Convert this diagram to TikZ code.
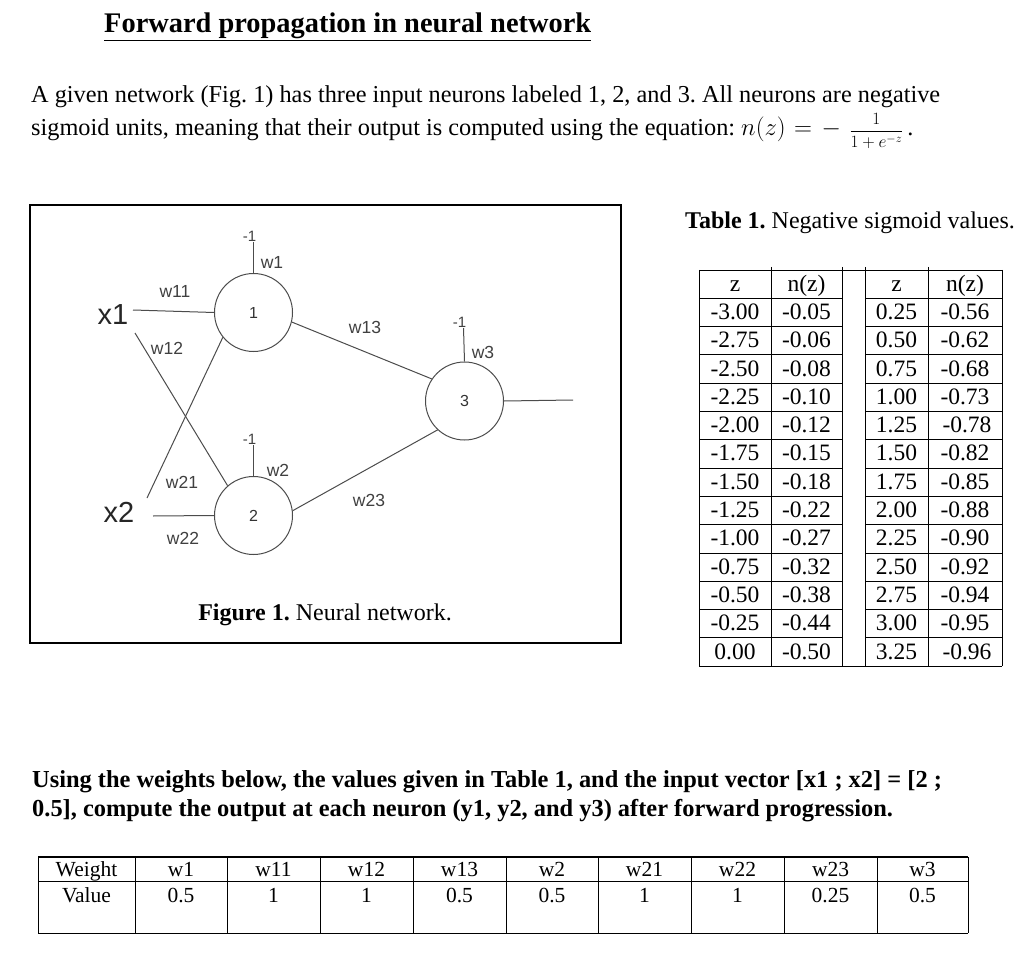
\documentclass[tikz,border=0pt]{standalone}
\usepackage{fontspec}
\setmainfont{Liberation Serif}
\newfontfamily\arialf{Liberation Sans}
\frenchspacing
\begin{document}
\begin{tikzpicture}[x=1pt,y=-1pt,
  neuron/.style={circle,draw=black!70,line width=1pt,minimum size=78pt,inner sep=0pt,font=\arialf\fontsize{16}{16}\selectfont,text=black!80},
  wire/.style={draw=black!70,line width=1pt},
  wlab/.style={font=\arialf\fontsize{17.5}{17.5}\selectfont,text=black!75,inner sep=0pt},
  blab/.style={font=\arialf\fontsize{15}{15}\selectfont,text=black!75,inner sep=0pt,anchor=south east},
  xlab/.style={font=\arialf\fontsize{29}{29}\selectfont,text=black!85,inner sep=0pt},
  txt/.style={inner sep=0pt,anchor=base west,font=\fontsize{24.3}{28}\selectfont},
  cell/.style={inner sep=0pt,anchor=base,font=\fontsize{23.5}{23.5}\selectfont},
  wcell/.style={inner sep=0pt,anchor=base,font=\fontsize{21.5}{21.5}\selectfont},
  grid/.style={draw=black,line width=0.9pt}]
\useasboundingbox (0,0) rectangle (1024,957);
\fill[white] (0,0) rectangle (1024,957);

% title and introduction
\node[txt,font=\bfseries\fontsize{28.4}{32}\selectfont] (title) at (104,33) {\underline{Forward propagation in neural network}};
\node[txt] (p1) at (31,103) {A given network (Fig. 1) has three input neurons labeled 1, 2, and 3. All neurons are negative};
\node[txt] (p2) at (31,136) {sigmoid units, meaning that their output is computed using the equation: $n(z)\mkern1mu=\mkern2mu{-}\mkern6mu${\fontsize{17}{17}\selectfont$\displaystyle\frac{1}{1+e^{-z}}$}\,.};

% figure box
\draw[line width=1.3pt] (30,205) rectangle (621,643);

% neurons
\node[neuron] (n1) at (253.5,312.5) {1};
\node[neuron] (n2) at (253.5,515.5) {2};
\node[neuron] (n3) at (464.5,401) {3};

% inputs
\node[xlab] (x1) at (113,315) {x1};
\node[xlab] (x2) at (119,512) {x2};

% biases
\coordinate (b1) at (253.5,242);
\coordinate (b2) at (253.5,445);
\coordinate (b3) at (463.5,328);
\draw[wire] (b1) -- (n1.north);
\draw[wire] (b2) -- (n2.north);
\draw[wire] (b3) -- (n3.north);
\node[blab] (m1) at ([xshift=3pt]b1) {-1};
\node[blab] (m2) at ([xshift=3pt]b2) {-1};
\node[blab] (m3) at ([xshift=3pt]b3) {-1};

% connectors
\coordinate (x1s) at (133,310);
\coordinate (x1d) at (135,333);
\coordinate (x2u) at (147,498);
\coordinate (x2s) at (153,516);
\coordinate (out) at (573,400);
\draw[wire] (x1s) -- (n1.west);
\draw[wire] (x1d) -- (n2.131);
\draw[wire] (x2u) -- (n1.-141);
\draw[wire] (x2s) -- (n2.west);
\draw[wire] (n1.-14) -- (n3.146);
\draw[wire] (n2.7) -- (n3.-133);
\draw[wire] (n3.east) -- (out);

% weight labels
\node[wlab] (lw1) at (272,262) {w1};
\node[wlab] (lw2) at (278,470) {w2};
\node[wlab] (lw3) at (483,352) {w3};
\node[wlab] (lw11) at (175,291) {w11};
\node[wlab] (lw12) at (167,348) {w12};
\node[wlab] (lw13) at (365,327) {w13};
\node[wlab] (lw21) at (182,482) {w21};
\node[wlab] (lw22) at (183,538) {w22};
\node[wlab] (lw23) at (369,500) {w23};

\node[inner sep=0pt,font=\fontsize{24}{28}\selectfont] (figcap) at (325,615) {\textbf{Figure 1.} Neural network.};

% Table 1
\node[txt,font=\fontsize{24}{28}\selectfont] (t1cap) at (685,229) {\textbf{Table 1.} Negative sigmoid values.};
\def\ttop{270}
\def\tp{28.3}
\node[cell] (hz1) at (735,{\ttop+0.5*\tp+7}) {z};
\node[cell] (hn1) at (806.5,{\ttop+0.5*\tp+7}) {n(z)};
\node[cell] (hz2) at (896.5,{\ttop+0.5*\tp+7}) {z};
\node[cell] (hn2) at (965,{\ttop+0.5*\tp+7}) {n(z)};
\foreach \a/\b/\c/\d/\s [count=\i] in {-3.00/-0.05/0.25/-0.56/0,-2.75/-0.06/0.50/-0.62/0,-2.50/-0.08/0.75/-0.68/0,-2.25/-0.10/1.00/-0.73/0,-2.00/-0.12/1.25/-0.78/2,-1.75/-0.15/1.50/-0.82/0,-1.50/-0.18/1.75/-0.85/0,-1.25/-0.22/2.00/-0.88/0,-1.00/-0.27/2.25/-0.90/0,-0.75/-0.32/2.50/-0.92/0,-0.50/-0.38/2.75/-0.94/0,-0.25/-0.44/3.00/-0.95/0,0.00/-0.50/3.25/-0.96/2}{
  \node[cell] (za\i) at (735,{\ttop+(\i+0.5)*\tp+7}) {\a};
  \node[cell] (na\i) at (806.5,{\ttop+(\i+0.5)*\tp+7}) {\b};
  \node[cell] (zb\i) at (896.5,{\ttop+(\i+0.5)*\tp+7}) {\c};
  \node[cell] (nb\i) at ({965+\s},{\ttop+(\i+0.5)*\tp+7}) {\d};
  \draw[grid] (699,{\ttop+\i*\tp}) -- (842,{\ttop+\i*\tp});
  \draw[grid] (865,{\ttop+\i*\tp}) -- (1002,{\ttop+\i*\tp});
}
\draw[grid] (699,\ttop) -- (1002,\ttop);
\draw[grid] (699,{\ttop+14*\tp}) -- (1002,{\ttop+14*\tp});
\foreach \xx in {699,1002} \draw[grid] (\xx,\ttop) -- (\xx,{\ttop+14*\tp});
\foreach \xx in {771,842,865,928} \draw[grid] (\xx,{\ttop-3}) -- (\xx,{\ttop+14*\tp});

% question
\node[txt,font=\bfseries\fontsize{24.4}{28}\selectfont] (q1) at (32,787) {Using the weights below, the values given in Table 1, and the input vector [x1 ; x2] = [2 ;};
\node[txt,font=\bfseries\fontsize{24.4}{28}\selectfont] (q2) at (32,816) {0.5], compute the output at each neuron (y1, y2, and y3) after forward progression.};

% weight table
\foreach \h/\v/\xa/\xb [count=\i] in {Weight/Value/38/135,w1/0.5/135/227,w11/1/227/320,w12/1/320/413,w13/0.5/413/506,w2/0.5/506/598,w21/1/598/691,w22/1/691/784,w23/0.25/784/877,w3/0.5/877/968}{
  \node[wcell] (wh\i) at ({(\xa+\xb)/2},876) {\h};
  \node[wcell] (wv\i) at ({(\xa+\xb)/2},902) {\v};
  \draw[grid] (\xb,857) -- (\xb,933);
}
\draw[grid] (38,857) -- (38,933);
\draw[grid] (38,881) -- (968,881);
\draw[grid] (38,933) -- (968,933);
\draw[line width=2pt] (38,857) -- (968,857);
\end{tikzpicture}
\end{document}
